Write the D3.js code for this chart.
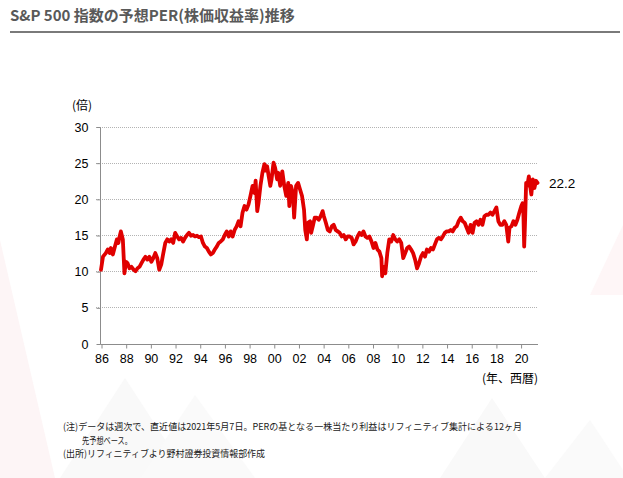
<!DOCTYPE html>
<html><head><meta charset="utf-8">
<script src="https://cdn.jsdelivr.net/npm/d3@7"></script>
<style>
html,body{margin:0;padding:0;background:#fff;}
svg{display:block;}
</style></head>
<body>
<script>
const title = "S&P 500 指数の予想PER(株価収益率)推移";
const yTicks = [0, 5, 10, 15, 20, 25, 30];
const xTicks = [1986,1988,1990,1992,1994,1996,1998,2000,2002,2004,2006,2008,2010,2012,2014,2016,2018,2020];
const xTickLabels = ["86","88","90","92","94","96","98","00","02","04","06","08","10","12","14","16","18","20"];
const yUnit = "(倍)";
const xUnit = "(年、西暦)";
const lastLabel = "22.2";
const notes = [
  "(注)データは週次で、直近値は2021年5月7日。PERの基となる一株当たり利益はリフィニティブ集計による12ヶ月",
  "先予想ベース。",
  "(出所)リフィニティブより野村證券投資情報部作成"
];
const years = [
1986.00,1986.16,1986.39,1986.55,1986.71,1986.80,1986.96,1987.13,1987.29,1987.41,1987.51,1987.61,1987.77,1987.90,
1988.02,1988.15,1988.31,1988.47,1988.64,1988.80,1988.96,1989.12,1989.28,1989.44,1989.60,1989.76,1989.92,
1990.08,1990.24,1990.40,1990.56,1990.72,1990.88,1991.05,1991.21,1991.37,1991.53,1991.69,1991.85,
1992.01,1992.17,1992.33,1992.49,1992.65,1992.81,1992.97,1993.13,1993.29,1993.46,1993.62,1993.78,1993.94,
1994.10,1994.26,1994.42,1994.58,1994.74,1994.90,1995.06,1995.22,1995.38,1995.54,1995.70,1995.87,
1996.03,1996.19,1996.35,1996.51,1996.67,1996.83,1996.99,1997.15,1997.31,1997.47,1997.63,1997.79,1997.95,
1998.11,1998.28,1998.44,1998.53,1998.66,1998.76,1998.92,1999.08,1999.24,1999.34,1999.46,1999.59,1999.72,1999.82,1999.98,
2000.11,2000.27,2000.36,2000.52,2000.69,2000.85,2001.01,2001.17,2001.26,2001.39,2001.55,2001.65,2001.81,2001.97,
2002.13,2002.29,2002.45,2002.55,2002.68,2002.77,2002.94,2003.03,2003.16,2003.32,2003.48,2003.64,2003.80,2003.96,
2004.06,2004.22,2004.38,2004.54,2004.70,2004.86,2005.02,2005.18,2005.34,2005.51,2005.67,2005.83,2005.99,
2006.15,2006.31,2006.47,2006.63,2006.79,2006.95,2007.11,2007.27,2007.43,2007.59,2007.75,2007.92,
2008.08,2008.24,2008.40,2008.56,2008.72,2008.78,2008.91,2009.04,2009.20,2009.36,2009.52,2009.68,2009.84,
2010.00,2010.17,2010.33,2010.49,2010.65,2010.81,2010.97,2011.13,2011.29,2011.45,2011.61,2011.77,2011.93,
2012.09,2012.25,2012.41,2012.58,2012.74,2012.90,2013.06,2013.22,2013.38,2013.54,2013.70,2013.86,
2014.02,2014.18,2014.34,2014.50,2014.66,2014.82,2014.98,2015.15,2015.31,2015.47,2015.63,2015.79,2015.95,
2016.11,2016.27,2016.43,2016.59,2016.75,2016.91,2017.07,2017.23,2017.39,2017.56,2017.72,2017.88,
2018.04,2018.20,2018.36,2018.52,2018.68,2018.84,2019.00,2019.10,2019.26,2019.42,2019.58,2019.74,2019.90,
2020.06,2020.16,2020.22,2020.29,2020.35,2020.45,2020.54,2020.67,2020.77,2020.87,2020.99,2021.12,2021.25,2021.37
];
const per = [
10.2,12.0,12.5,13.0,12.5,13.2,12.3,13.4,14.4,13.9,14.8,15.5,14.4,9.7,
11.3,11.1,10.4,10.6,10.2,10.0,10.4,10.6,11.1,11.6,12.0,11.6,12.0,
11.3,11.8,12.5,11.8,10.2,10.9,12.5,13.9,14.4,14.1,14.4,13.9,
15.3,14.8,14.4,14.6,14.1,14.6,15.0,15.3,14.9,15.0,14.8,14.9,14.7,
14.8,13.9,13.4,13.2,12.7,12.3,12.5,13.0,13.4,13.9,14.1,14.4,
15.0,15.5,14.8,15.5,14.8,15.7,16.2,16.9,16.2,18.1,19.0,18.5,19.2,
20.4,21.8,20.8,22.5,18.3,19.4,21.8,23.6,24.8,23.9,24.5,23.1,21.8,22.7,25.0,
24.3,22.7,23.6,21.8,23.8,21.8,20.4,22.2,19.0,21.8,20.8,17.4,21.8,22.2,
21.3,20.4,18.5,15.7,14.4,16.7,16.9,15.3,16.2,17.4,17.4,17.1,17.6,18.3,
17.6,16.7,15.7,15.5,16.2,16.4,15.7,15.5,15.3,14.8,15.0,14.4,14.8,
14.8,14.6,13.7,14.1,14.8,15.3,15.0,15.5,14.8,14.6,14.8,14.1,
13.2,13.9,13.0,12.7,11.8,9.3,10.6,9.7,12.5,14.4,14.1,15.0,14.4,
14.1,14.4,13.9,11.8,12.5,13.2,13.4,13.0,12.5,11.6,10.4,11.1,12.0,
12.5,12.0,13.0,12.7,13.2,13.0,13.7,14.4,14.6,14.4,14.8,15.3,
15.5,15.5,15.7,15.5,16.0,16.2,16.9,17.4,16.9,16.7,16.0,15.3,16.4,
15.3,16.7,16.9,16.4,17.1,16.4,17.6,17.8,17.8,18.1,17.8,18.3,
18.8,16.9,16.4,16.4,16.9,16.4,14.1,16.0,16.2,16.9,16.4,17.1,18.1,
19.0,19.4,18.5,13.4,16.2,22.2,21.8,23.1,21.8,20.6,22.7,21.5,22.5,22.2
];

const W = 623, H = 478;
const svg = d3.select("body").append("svg").attr("width", W).attr("height", H);

// very faint watermark mountains
const bg = svg.append("g");
const tri = [
  {p:[[0,478],[0,240],[55,478]], c:"#fdf5f6"},
  {p:[[60,478],[125,378],[190,478]], c:"#f9f9f9"},
  {p:[[140,478],[195,395],[255,478]], c:"#fafafa"},
  {p:[[440,478],[492,398],[545,478]], c:"#f9f9f9"},
  {p:[[545,478],[590,420],[623,470],[623,478]], c:"#fafafa"},
  {p:[[590,295],[623,225],[623,295]], c:"#fef6f7"}
];
tri.forEach(t => bg.append("polygon").attr("points", t.p.map(d=>d.join(",")).join(" ")).attr("fill", t.c));

// title
svg.append("text").attr("x", 10).attr("y", 21)
  .attr("font-family", "'Noto Sans CJK JP', sans-serif").attr("font-weight", "bold")
  .attr("font-size", 15).attr("fill", "#595959").text(title);
svg.append("rect").attr("x", 10).attr("y", 31).attr("width", 610).attr("height", 2).attr("fill", "#7a7a7a");

const x = d3.scaleLinear().domain([1986, 2021.37]).range([101, 537.5]);
const y = d3.scaleLinear().domain([0, 30]).range([343.5, 126.5]);

// gridlines
const grid = svg.append("g");
yTicks.filter(v => v > 0).forEach(v => {
  grid.append("line").attr("x1", 96).attr("x2", 538).attr("y1", Math.round(y(v))+0.5).attr("y2", Math.round(y(v))+0.5)
    .attr("stroke", "#b3b3b3").attr("stroke-width", 1).attr("stroke-dasharray", "1,1");
});

// y axis
const yAxis = svg.append("g").attr("transform", "translate(100.5,0.5)")
  .call(d3.axisLeft(y).tickValues(yTicks).tickSize(4).tickFormat(d3.format("d")));
yAxis.select(".domain").attr("stroke", "#8c8c8c").attr("d", `M0,${Math.round(y(30))}V${Math.round(y(0))}`);
yAxis.selectAll(".tick line").attr("stroke", "#8c8c8c");
yAxis.selectAll(".tick text").attr("x", -12).attr("fill", "#000")
  .attr("font-family", "'Liberation Sans', Arial, sans-serif").attr("font-size", 12.5);

// x axis
const xAxis = svg.append("g").attr("transform", `translate(0.5,${Math.round(y(0))+0.5})`)
  .call(d3.axisBottom(x).tickValues(xTicks).tickSize(4).tickFormat((d,i) => xTickLabels[i]));
xAxis.select(".domain").attr("stroke", "#8c8c8c").attr("d", `M100,0H${x(2021.37)}`);
xAxis.selectAll(".tick line").attr("stroke", "#8c8c8c");
xAxis.selectAll(".tick text").attr("y", 10).attr("fill", "#000")
  .attr("font-family", "'Liberation Sans', Arial, sans-serif").attr("font-size", 12.5);

// line
const data = years.map((yr, i) => ({yr, v: per[i]}));
svg.append("path").datum(data)
  .attr("fill", "none").attr("stroke", "#e00000").attr("stroke-width", 3.8)
  .attr("stroke-linejoin", "round").attr("stroke-linecap", "round")
  .attr("d", d3.line().x(d => x(d.yr)).y(d => y(d.v)));

// labels
svg.append("text").attr("x", 72).attr("y", 110)
  .attr("font-family", "'Noto Sans CJK JP', sans-serif").attr("font-size", 12).attr("fill", "#000").text(yUnit);
svg.append("text").attr("x", 538).attr("y", 383).attr("text-anchor", "end")
  .attr("font-family", "'Noto Sans CJK JP', sans-serif").attr("font-size", 12).attr("fill", "#000").text(xUnit);
svg.append("text").attr("x", 549).attr("y", y(per[per.length-1]) + 5)
  .attr("font-family", "'Liberation Sans', Arial, sans-serif").attr("font-size", 13.5).attr("fill", "#000").text(lastLabel);

// notes
const noteFont = "'Noto Sans CJK JP', sans-serif";
const notePos = [{x:63, y:430, w:459}, {x:82, y:443.5, w:50}, {x:63, y:457, w:202}];
notes.forEach((t, i) => {
  svg.append("text").attr("x", notePos[i].x).attr("y", notePos[i].y)
    .attr("font-family", noteFont).attr("font-size", 9.5).attr("fill", "#1a1a1a")
    .attr("textLength", notePos[i].w).attr("lengthAdjust", "spacingAndGlyphs").text(t);
});
</script>
</body></html>
